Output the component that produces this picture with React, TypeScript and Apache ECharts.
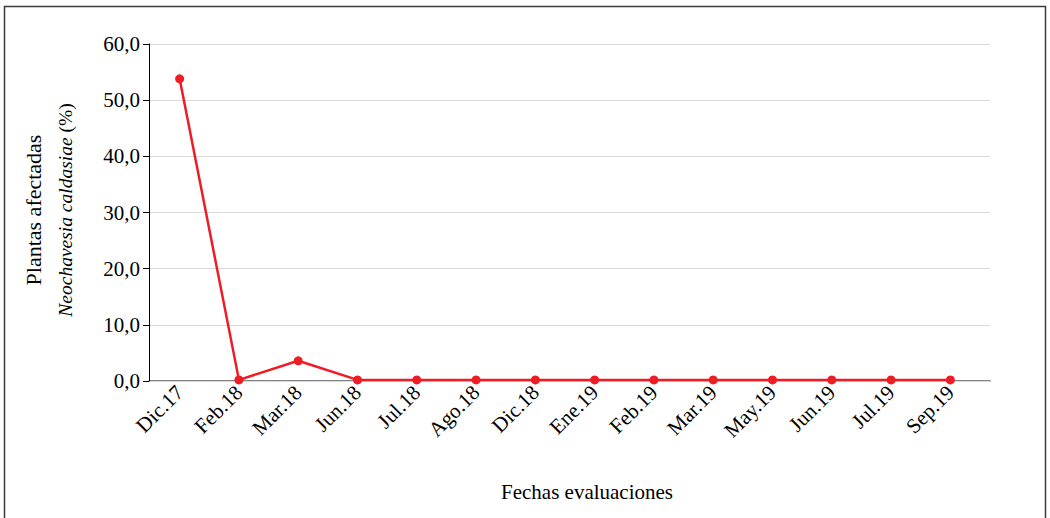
import React, { useEffect, useRef } from "react";
import * as echarts from "echarts";

const categories = ["Dic.17", "Feb.18", "Mar.18", "Jun.18", "Jul.18", "Ago.18", "Dic.18", "Ene.19", "Feb.19", "Mar.19", "May.19", "Jun.19", "Jul.19", "Sep.19"];
const values = [53.8, 0.2, 3.6, 0.2, 0.2, 0.2, 0.2, 0.2, 0.2, 0.2, 0.2, 0.2, 0.2, 0.2];
const yTicks = [0, 10, 20, 30, 40, 50, 60];

const FONT = "'Liberation Serif', 'DejaVu Serif', serif";

export default function App() {
  const ref = useRef<HTMLDivElement>(null);
  useEffect(() => {
    const chart = echarts.init(ref.current!, null, { renderer: "svg" });
    const yMin = yTicks[0];
    const yMax = yTicks[yTicks.length - 1];
    chart.setOption({
      animation: false,
      backgroundColor: "#fff",
      textStyle: { fontFamily: FONT },
      grid: [
        { left: 149, right: 60, top: 44, bottom: 137, containLabel: false },
        { left: 150, right: 70, top: 44, bottom: 137, containLabel: false },
      ],
      graphic: [
        {
          type: "rect",
          shape: { x: 4.5, y: 6.5, width: 1041, height: 530 },
          style: { fill: "none", stroke: "#3a3a3a", lineWidth: 1.5 },
          silent: true,
        },
        {
          type: "text",
          x: 49,
          y: 210,
          rotation: Math.PI / 2,
          style: {
            text: "{a|Plantas afectadas}\n{b|Neochavesia caldasiae}{c| (%)}",
            align: "center",
            verticalAlign: "middle",
            rich: {
              a: { fontFamily: FONT, fontSize: 22, color: "#000", lineHeight: 32 },
              b: { fontFamily: FONT, fontSize: 19.5, fontStyle: "italic", color: "#000", lineHeight: 32 },
              c: { fontFamily: FONT, fontSize: 19.5, color: "#000", lineHeight: 32 },
            },
          },
        },
        {
          type: "text",
          x: 587,
          y: 492,
          style: {
            text: "Fechas evaluaciones",
            align: "center",
            verticalAlign: "middle",
            fontFamily: FONT,
            fontSize: 21,
            fill: "#000",
          },
        },
      ],
      xAxis: [
        {
          gridIndex: 0,
          type: "value",
          min: 0,
          max: 1,
          axisLine: { show: true, onZero: false, lineStyle: { color: "#595959", width: 1.5 } },
          axisTick: { show: false },
          axisLabel: { show: false },
          splitLine: { show: false },
        },
        {
          gridIndex: 1,
          type: "category",
          data: categories,
          boundaryGap: true,
          axisLine: { show: false },
          axisTick: { show: false },
          axisLabel: {
            rotate: 45,
            interval: 0,
            margin: 8,
            color: "#000",
            fontFamily: FONT,
            fontSize: 21,
          },
        },
      ],
      yAxis: [
        {
          gridIndex: 0,
          type: "value",
          min: yMin,
          max: yMax,
          interval: 10,
          axisLine: { show: true, lineStyle: { color: "#000", width: 1 } },
          axisTick: { show: true, length: 6, lineStyle: { color: "#000" } },
          splitLine: { show: true, lineStyle: { color: "#d9d9d9", width: 1 } },
          axisLabel: {
            color: "#000",
            fontFamily: FONT,
            fontSize: 21,
            margin: 9,
            formatter: (v: number) => v.toFixed(1).replace(".", ","),
          },
          z: 1,
        },
        {
          gridIndex: 1,
          type: "value",
          min: yMin,
          max: yMax,
          interval: 10,
          show: false,
          splitLine: { show: false },
        },
      ],
      series: [
        {
          type: "line",
          xAxisIndex: 1,
          yAxisIndex: 1,
          data: values,
          symbol: "circle",
          symbolSize: 9,
          lineStyle: { color: "#ee1c25", width: 2.5 },
          itemStyle: { color: "#ee1c25" },
          z: 5,
        },
      ],
    });
    return () => chart.dispose();
  }, []);
  return (
    <div
      ref={ref}
      style={{ position: "fixed", left: 0, top: 0, width: 1050, height: 518 }}
    />
  );
}
